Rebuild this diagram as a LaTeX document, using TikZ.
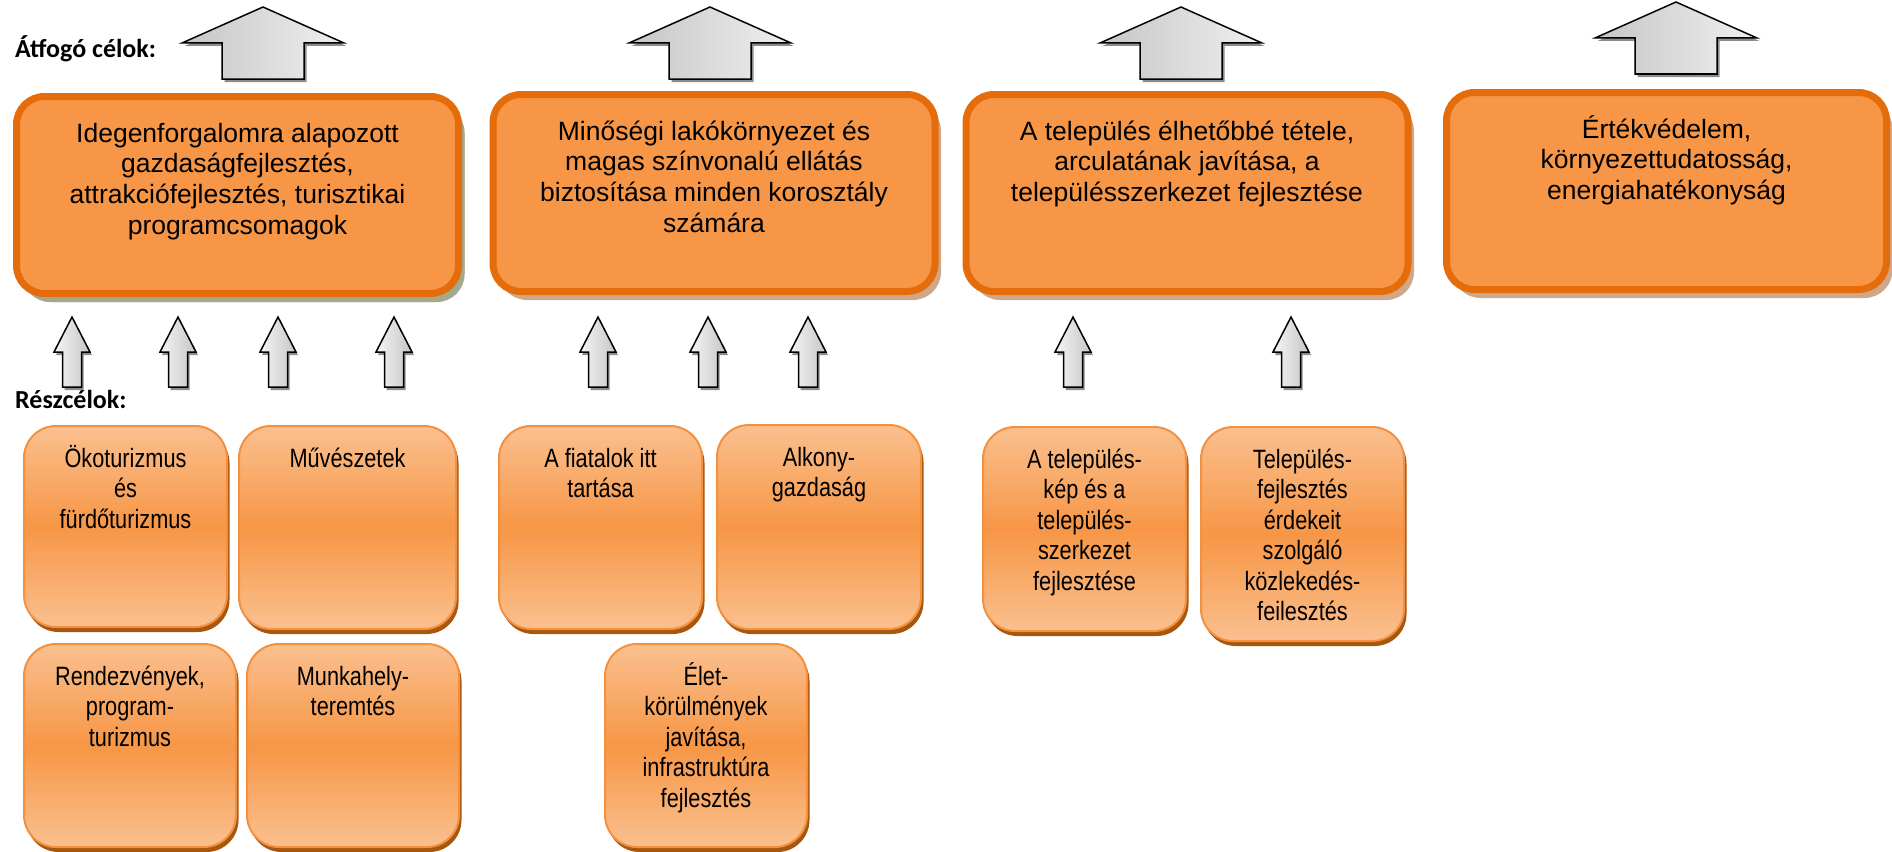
\documentclass[tikz,border=0pt]{standalone}
\usepackage{fontspec}
\setmainfont{Liberation Sans}
\newfontfamily\narrowfont[FakeStretch=0.82]{Liberation Sans}
\newfontfamily\lblfont{Carlito}
\usetikzlibrary{shadows}
\definecolor{topfill}{HTML}{F79646}
\definecolor{topborder}{HTML}{E46C0A}
\definecolor{subbord}{HTML}{F39140}
\definecolor{sublight}{HTML}{FAC08F}
\definecolor{submid}{HTML}{F79646}
\definecolor{subshadow}{HTML}{A9560E}
\definecolor{greenshadow}{HTML}{A4A98C}
\definecolor{tanshadow}{HTML}{CDA88A}
\definecolor{arrshadow}{HTML}{8C8C8C}
\tikzset{
  goalbox/.style={draw=topborder, line width=7pt, fill=topfill, rounded corners=28pt,
    minimum width=442pt, minimum height=197pt, inner sep=0pt, outer sep=0pt,
    drop shadow={shadow xshift=6pt, shadow yshift=-8.5pt, fill=tanshadow, opacity=1}},
  goalboxg/.style={goalbox, drop shadow={shadow xshift=6pt, shadow yshift=-8.5pt, fill=greenshadow, opacity=1}},
  goaltext/.style={anchor=north, align=center, inner sep=0pt,
    font=\fontsize{26.5}{30.6}\selectfont},
  subbox/.style={draw=subbord, line width=2pt, rounded corners=32pt,
    top color=sublight, bottom color=sublight, middle color=submid,
    inner sep=0pt, outer sep=0pt,
    drop shadow={shadow xshift=2.5pt, shadow yshift=-5pt, fill=subshadow, opacity=1}},
  subtext/.style={anchor=north, align=center, inner sep=0pt,
    font=\narrowfont\fontsize{26.5}{30.5}\selectfont},
  lbl/.style={anchor=base west, inner sep=0pt, font=\lblfont\bfseries\fontsize{26}{30}\selectfont},
  bigup/.pic={
    \fill[arrshadow, shift={(2.5,3)}] (0,0) -- (81,36) -- (41,36) -- (41,72) -- (-41,72) -- (-41,36) -- (-81,36) -- cycle;
    \shade[left color=gray!45, right color=gray!12, draw=black, line width=1.5pt]
      (0,0) -- (81,36) -- (41,36) -- (41,72) -- (-41,72) -- (-41,36) -- (-81,36) -- cycle;
  },
  smallup/.pic={
    \fill[arrshadow, shift={(2,3)}] (0,0) -- (18,35) -- (9.5,35) -- (9.5,70) -- (-9.5,70) -- (-9.5,35) -- (-18,35) -- cycle;
    \shade[left color=gray!8, right color=gray!45, draw=black, line width=1.5pt]
      (0,0) -- (18,35) -- (9.5,35) -- (9.5,70) -- (-9.5,70) -- (-9.5,35) -- (-18,35) -- cycle;
  },
}
\begin{document}
\begin{tikzpicture}[x=1pt, y=-1pt]
\useasboundingbox (0,0) rectangle (1892,851);

% labels
\node[lbl] (lblA) at (15,58) {Átfogó célok:};
\node[lbl] (lblR) at (15,408) {Részcélok:};

% big arrows
\pic (ba1) at (263,7) {bigup};
\pic (ba2) at (710,7) {bigup};
\pic (ba3) at (1181,7) {bigup};
\pic (ba4) at (1676,2) {bigup};

% goal boxes
\node[goalboxg] (g1) at (237.5,195) {};
\node[goalbox] (g2) at (714,193) {};
\node[goalbox] (g3) at (1187,193) {};
\node[goalbox, minimum width=440pt] (g4) at (1666.5,191) {};

\node[goaltext] (tg1) at ([yshift=-19.5pt]g1.north) {\rule{0pt}{26pt}Idegenforgalomra alapozott\\gazdaságfejlesztés,\\attrakciófejlesztés, turisztikai\\programcsomagok};
\node[goaltext] (tg2) at ([yshift=-19.5pt]g2.north) {\rule{0pt}{26pt}Minőségi lakókörnyezet és\\magas színvonalú ellátás\\biztosítása minden korosztály\\számára};
\node[goaltext] (tg3) at ([yshift=-19.5pt]g3.north) {\rule{0pt}{26pt}A település élhetőbbé tétele,\\arculatának javítása, a\\településszerkezet fejlesztése};
\node[goaltext] (tg4) at ([yshift=-19.5pt]g4.north) {\rule{0pt}{26pt}Értékvédelem,\\környezettudatosság,\\energiahatékonyság};

% small arrows
\pic (sa11) at (72,317) {smallup};
\pic (sa12) at (178,317) {smallup};
\pic (sa13) at (278,317) {smallup};
\pic (sa14) at (394,317) {smallup};
\pic (sa21) at (598,317) {smallup};
\pic (sa22) at (708,317) {smallup};
\pic (sa23) at (808,317) {smallup};
\pic (sa31) at (1073,317) {smallup};
\pic (sa32) at (1291,317) {smallup};

% sub boxes
\node[subbox, minimum width=203pt, minimum height=201pt] (s11) at (125.5,526.5) {};
\node[subbox, minimum width=217pt, minimum height=203pt] (s12) at (347.5,527.5) {};
\node[subbox, minimum width=212pt, minimum height=203pt] (s13) at (130,745.5) {};
\node[subbox, minimum width=212pt, minimum height=203pt] (s14) at (353,745.5) {};
\node[subbox, minimum width=203pt, minimum height=203pt] (s21) at (600.5,527.5) {};
\node[subbox, minimum width=204pt, minimum height=204pt] (s22) at (819,527) {};
\node[subbox, minimum width=202pt, minimum height=203pt] (s23) at (706,745.5) {};
\node[subbox, minimum width=203pt, minimum height=204pt] (s31) at (1084.5,529) {};
\node[subbox, minimum width=203pt, minimum height=214pt] (s32) at (1302.5,534) {};

\node[subtext] (ts11) at ([yshift=-15pt]s11.north) {\rule{0pt}{26pt}Ökoturizmus\\és\\fürdőturizmus};
\node[subtext] (ts12) at ([yshift=-15pt]s12.north) {\rule{0pt}{26pt}Művészetek};
\node[subtext] (ts13) at ([yshift=-15pt]s13.north) {\rule{0pt}{26pt}Rendezvények,\\program-\\turizmus};
\node[subtext] (ts14) at ([yshift=-15pt]s14.north) {\rule{0pt}{26pt}Munkahely-\\teremtés};
\node[subtext] (ts21) at ([yshift=-15pt]s21.north) {\rule{0pt}{26pt}A fiatalok itt\\tartása};
\node[subtext] (ts22) at ([yshift=-15pt]s22.north) {\rule{0pt}{26pt}Alkony-\\gazdaság};
\node[subtext] (ts23) at ([yshift=-15pt]s23.north) {\rule{0pt}{26pt}Élet-\\körülmények\\javítása,\\infrastruktúra\\fejlesztés};
\node[subtext] (ts31) at ([yshift=-15pt]s31.north) {\rule{0pt}{26pt}A település-\\kép és a\\település-\\szerkezet\\fejlesztése};
\node[subtext] (ts32) at ([yshift=-15pt]s32.north) {\rule{0pt}{26pt}Település-\\fejlesztés\\érdekeit\\szolgáló\\közlekedés-\\feilesztés};
\end{tikzpicture}
\end{document}
